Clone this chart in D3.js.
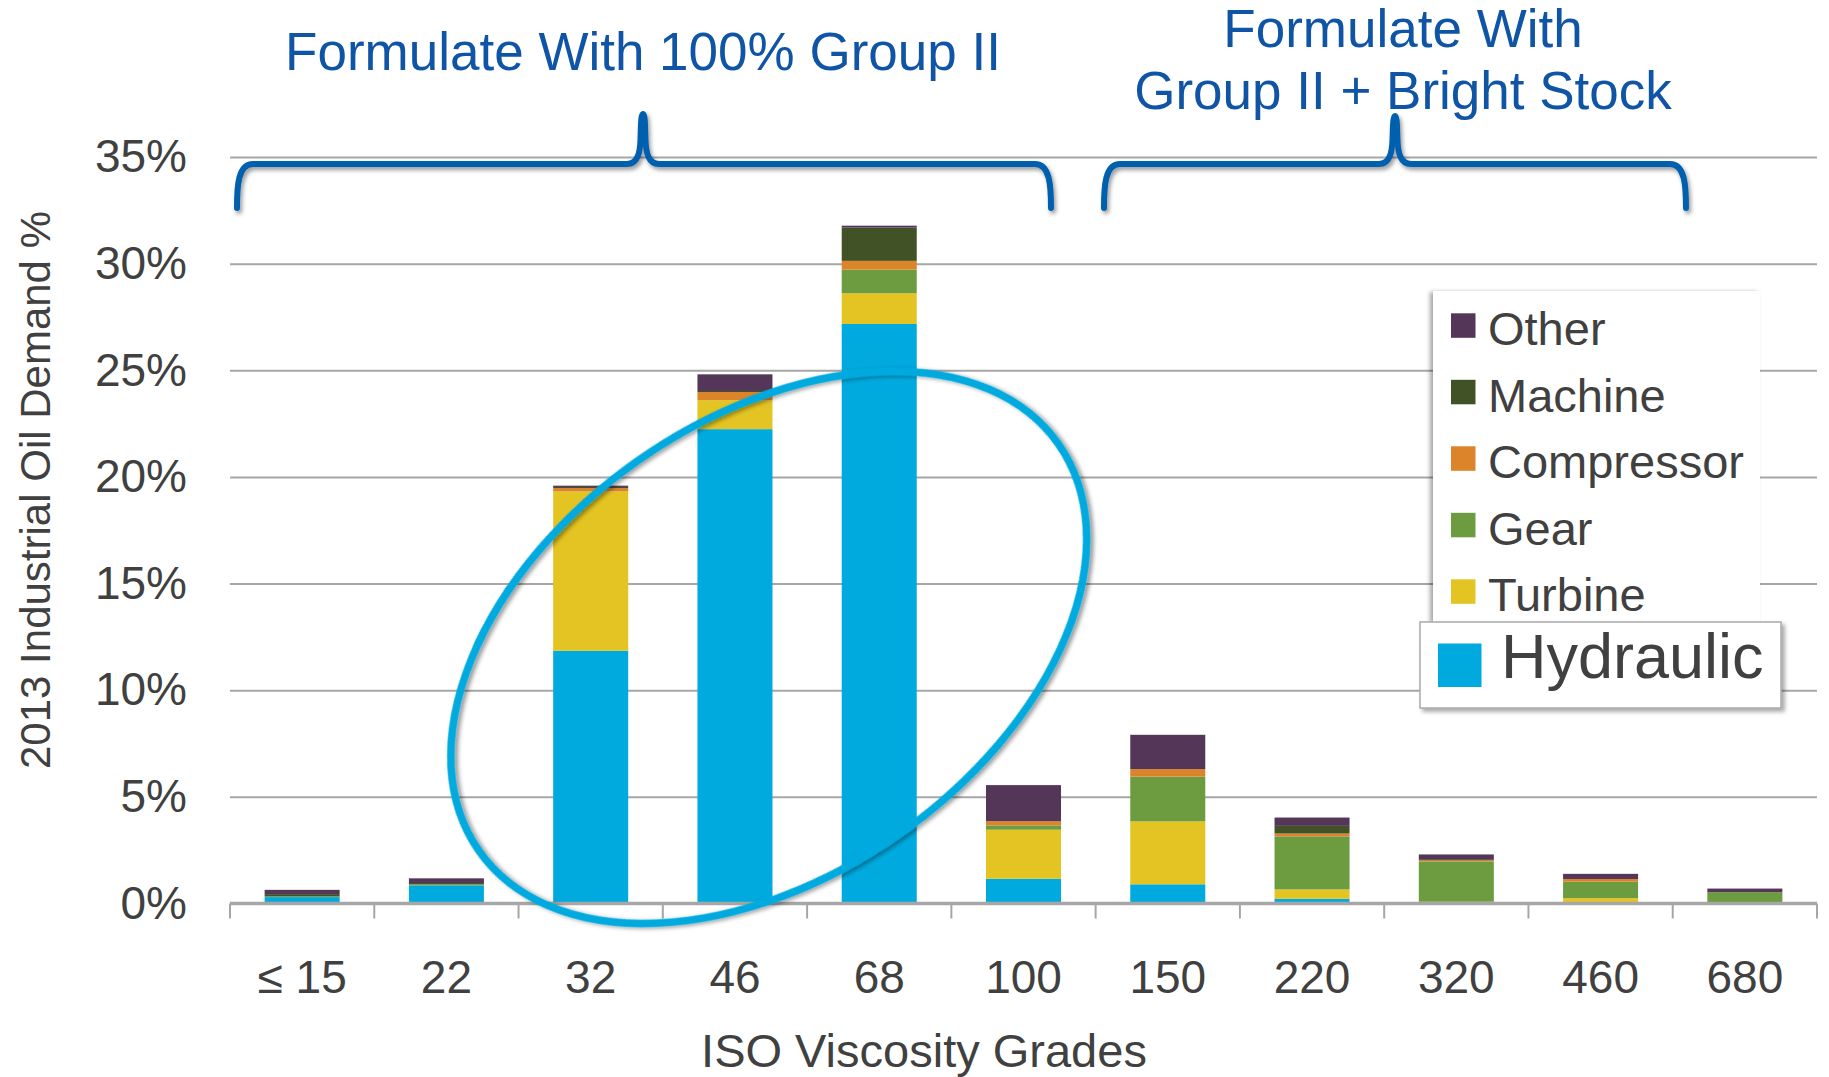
<!DOCTYPE html>
<html>
<head>
<meta charset="utf-8">
<script src="https://cdn.jsdelivr.net/npm/d3@7"></script>
<style>
  body { margin: 0; background: #ffffff; }
  svg { display: block; font-family: "Liberation Sans", Arial, sans-serif; }
</style>
</head>
<body>
<svg id="chart" width="1829" height="1077"></svg>
<script>
// ISO viscosity grades on the x axis
const categories = ["≤ 15", "22", "32", "46", "68", "100", "150", "220", "320", "460", "680"];

// 2013 industrial oil demand share (%) by application, per grade
const hydraulic  = [0.30, 0.85, 11.85, 22.24, 27.17, 1.16, 0.90, 0.22, 0.00, 0.00, 0.00];
const turbine    = [0.00, 0.00,  7.47,  1.36,  1.44, 2.30, 2.95, 0.44, 0.08, 0.25, 0.00];
const gear       = [0.04, 0.05,  0.00,  0.00,  1.11, 0.20, 2.10, 2.49, 1.88, 0.77, 0.52];
const compressor = [0.00, 0.00,  0.16,  0.38,  0.41, 0.20, 0.35, 0.13, 0.06, 0.13, 0.00];
const machine    = [0.10, 0.06,  0.05,  0.05,  1.56, 0.00, 0.00, 0.36, 0.06, 0.00, 0.02];
const other      = [0.20, 0.22,  0.06,  0.78,  0.09, 1.69, 1.61, 0.39, 0.22, 0.24, 0.16];

const seriesNames = ["Hydraulic", "Turbine", "Gear", "Compressor", "Machine", "Other"];
const seriesValues = [hydraulic, turbine, gear, compressor, machine, other];
const seriesColors = ["#00aadf", "#e3c422", "#6c9c3f", "#dc8429", "#415326", "#533658"];

const yTicks = [0, 5, 10, 15, 20, 25, 30, 35];

const leftTitle = "Formulate With 100% Group II";
const rightTitle = ["Formulate With", "Group II + Bright Stock"];
const yTitle = "2013 Industrial Oil Demand %";
const xTitle = "ISO Viscosity Grades";

// table for the stack layout
const rows = categories.map((c, i) => {
  const r = { grade: c };
  seriesNames.forEach((s, k) => { r[s] = seriesValues[k][i]; });
  return r;
});

const svg = d3.select("#chart");
const plot = { left: 230, right: 1817, top: 157, bottom: 903.5 };
const textGray = "#404040";
const gridGray = "#a6a6a6";
const titleBlue = "#1055a5";
const braceBlue = "#0561ae";

const x = d3.scaleBand().domain(categories).range([plot.left, plot.right])
  .paddingInner(0.48).paddingOuter(0.24);
const y = d3.scaleLinear().domain([0, 35]).range([plot.bottom, plot.top]);

// shadows
const defs = svg.append("defs");
function shadow(id, dx, dy, sd, op) {
  const f = defs.append("filter").attr("id", id)
    .attr("x", "-20%").attr("y", "-20%").attr("width", "140%").attr("height", "140%");
  f.append("feDropShadow").attr("dx", dx).attr("dy", dy)
    .attr("stdDeviation", sd).attr("flood-color", "#000").attr("flood-opacity", op);
}
shadow("shLine", 2, 3, 2, 0.4);
shadow("shBoxL", -3, 1, 2, 0.35);
shadow("shBoxR", 3, 3, 2, 0.35);

// horizontal gridlines
svg.append("g")
  .attr("transform", `translate(${plot.left},0)`)
  .call(d3.axisLeft(y).tickValues(yTicks.slice(1)).tickSize(-(plot.right - plot.left)).tickFormat(""))
  .call(g => g.select(".domain").remove())
  .call(g => g.selectAll("line").attr("stroke", gridGray).attr("stroke-width", 2));

// y tick labels
svg.append("g")
  .attr("transform", `translate(187,0)`)
  .call(d3.axisLeft(y).tickValues(yTicks).tickSize(0).tickPadding(0).tickFormat(d => d + "%"))
  .call(g => g.select(".domain").remove())
  .call(g => g.selectAll("text")
    .attr("fill", textGray).attr("font-size", 46)
    .attr("font-family", "Liberation Sans, Arial, sans-serif"));

// stacked bars
const stacked = d3.stack().keys(seriesNames)(rows);
svg.append("g").selectAll("g")
  .data(stacked)
  .join("g")
  .attr("fill", (d, i) => seriesColors[i])
  .selectAll("rect")
  .data(d => d)
  .join("rect")
  .attr("x", d => x(d.data.grade))
  .attr("width", x.bandwidth())
  .attr("y", d => y(d[1]))
  .attr("height", d => Math.max(0, y(d[0]) - y(d[1])));

// x axis line, boundary ticks and labels
const boundaries = categories.map(c => x(c) - x.step() * x.paddingInner() / 2);
boundaries.push(plot.right);
svg.append("g").selectAll("line")
  .data(boundaries)
  .join("line")
  .attr("x1", d => d).attr("x2", d => d)
  .attr("y1", plot.bottom).attr("y2", plot.bottom + 15)
  .attr("stroke", gridGray).attr("stroke-width", 2);
svg.append("line")
  .attr("x1", plot.left).attr("x2", plot.right)
  .attr("y1", plot.bottom).attr("y2", plot.bottom)
  .attr("stroke", gridGray).attr("stroke-width", 3.5);

svg.append("g")
  .attr("transform", `translate(0,${plot.bottom})`)
  .call(d3.axisBottom(x).tickSize(0).tickPadding(0))
  .call(g => g.select(".domain").remove())
  .call(g => g.selectAll("text")
    .attr("dy", null).attr("y", 89)
    .attr("fill", textGray).attr("font-size", 46)
    .attr("font-family", "Liberation Sans, Arial, sans-serif"));

// axis titles
svg.append("text")
  .attr("x", 924).attr("y", 1067)
  .attr("text-anchor", "middle").attr("font-size", 47).attr("fill", textGray)
  .text(xTitle);
svg.append("text")
  .attr("transform", "translate(50,490) rotate(-90)")
  .attr("text-anchor", "middle").attr("font-size", 42).attr("fill", textGray)
  .text(yTitle);

// ellipse around the grades 32-68
svg.append("ellipse")
  .attr("transform", "translate(768.7,647.4) rotate(-35.1)")
  .attr("rx", 354).attr("ry", 228)
  .attr("fill", "none").attr("stroke", "#00aadf").attr("stroke-width", 7.5)
  .attr("filter", "url(#shLine)");

// curly braces over the two formulation groups
function bracePath(x0, x1, xm, yTop, yMid, yBot) {
  const p = d3.path();
  p.moveTo(x0, yBot);
  p.bezierCurveTo(x0, yMid + 22, x0 + 1, yMid, x0 + 16, yMid);
  p.lineTo(xm - 16, yMid);
  p.bezierCurveTo(xm - 5, yMid, xm - 3, yMid - 12, xm - 2.5, yMid - 24);
  p.bezierCurveTo(xm - 2, yTop + 10, xm - 2, yTop, xm, yTop);
  p.bezierCurveTo(xm + 2, yTop, xm + 2, yTop + 10, xm + 2.5, yMid - 24);
  p.bezierCurveTo(xm + 3, yMid - 12, xm + 5, yMid, xm + 16, yMid);
  p.lineTo(x1 - 16, yMid);
  p.bezierCurveTo(x1 - 1, yMid, x1, yMid + 22, x1, yBot);
  return p.toString();
}
const braces = [
  { x0: 237, x1: 1051, xm: 643, top: 114 },
  { x0: 1104, x1: 1686, xm: 1395, top: 116 }
];
svg.append("g").selectAll("path")
  .data(braces)
  .join("path")
  .attr("d", d => bracePath(d.x0, d.x1, d.xm, d.top, 164, 208))
  .attr("fill", "none").attr("stroke", braceBlue).attr("stroke-width", 6)
  .attr("stroke-linecap", "round").attr("stroke-linejoin", "round")
  .attr("filter", "url(#shLine)");

// group titles
svg.append("text")
  .attr("x", 643).attr("y", 70)
  .attr("text-anchor", "middle").attr("font-size", 53).attr("fill", titleBlue)
  .text(leftTitle);
svg.append("g").selectAll("text")
  .data(rightTitle)
  .join("text")
  .attr("x", 1403).attr("y", (d, i) => 47 + i * 62)
  .attr("text-anchor", "middle").attr("font-size", 53).attr("fill", titleBlue)
  .text(d => d);

// legend: the five minor applications in one box, hydraulic in its own box
const minor = seriesNames.slice(1).map((n, i) => ({ name: n, color: seriesColors[i + 1] })).reverse();
const legend = svg.append("g");
legend.append("rect")
  .attr("x", 1433).attr("y", 291).attr("width", 327).attr("height", 331)
  .attr("fill", "#ffffff").attr("filter", "url(#shBoxL)");
const items = legend.selectAll("g.item")
  .data(minor)
  .join("g").attr("class", "item")
  .attr("transform", (d, i) => `translate(0,${325.5 + i * 66.5})`);
items.append("rect")
  .attr("x", 1451).attr("y", -12.2).attr("width", 24.5).attr("height", 24.5)
  .attr("fill", d => d.color);
items.append("text")
  .attr("x", 1488).attr("y", 19.5)
  .attr("font-size", 47).attr("fill", textGray)
  .text(d => d.name);

legend.append("rect")
  .attr("x", 1420).attr("y", 622).attr("width", 361).attr("height", 86)
  .attr("fill", "#ffffff").attr("stroke", "#a9a9a9").attr("stroke-width", 1.5)
  .attr("filter", "url(#shBoxR)");
legend.append("rect")
  .attr("x", 1438).attr("y", 643.5).attr("width", 43.5).attr("height", 43.5)
  .attr("fill", seriesColors[0]);
legend.append("text")
  .attr("x", 1501).attr("y", 678)
  .attr("font-size", 63).attr("fill", textGray)
  .text(seriesNames[0]);
</script>
</body>
</html>
